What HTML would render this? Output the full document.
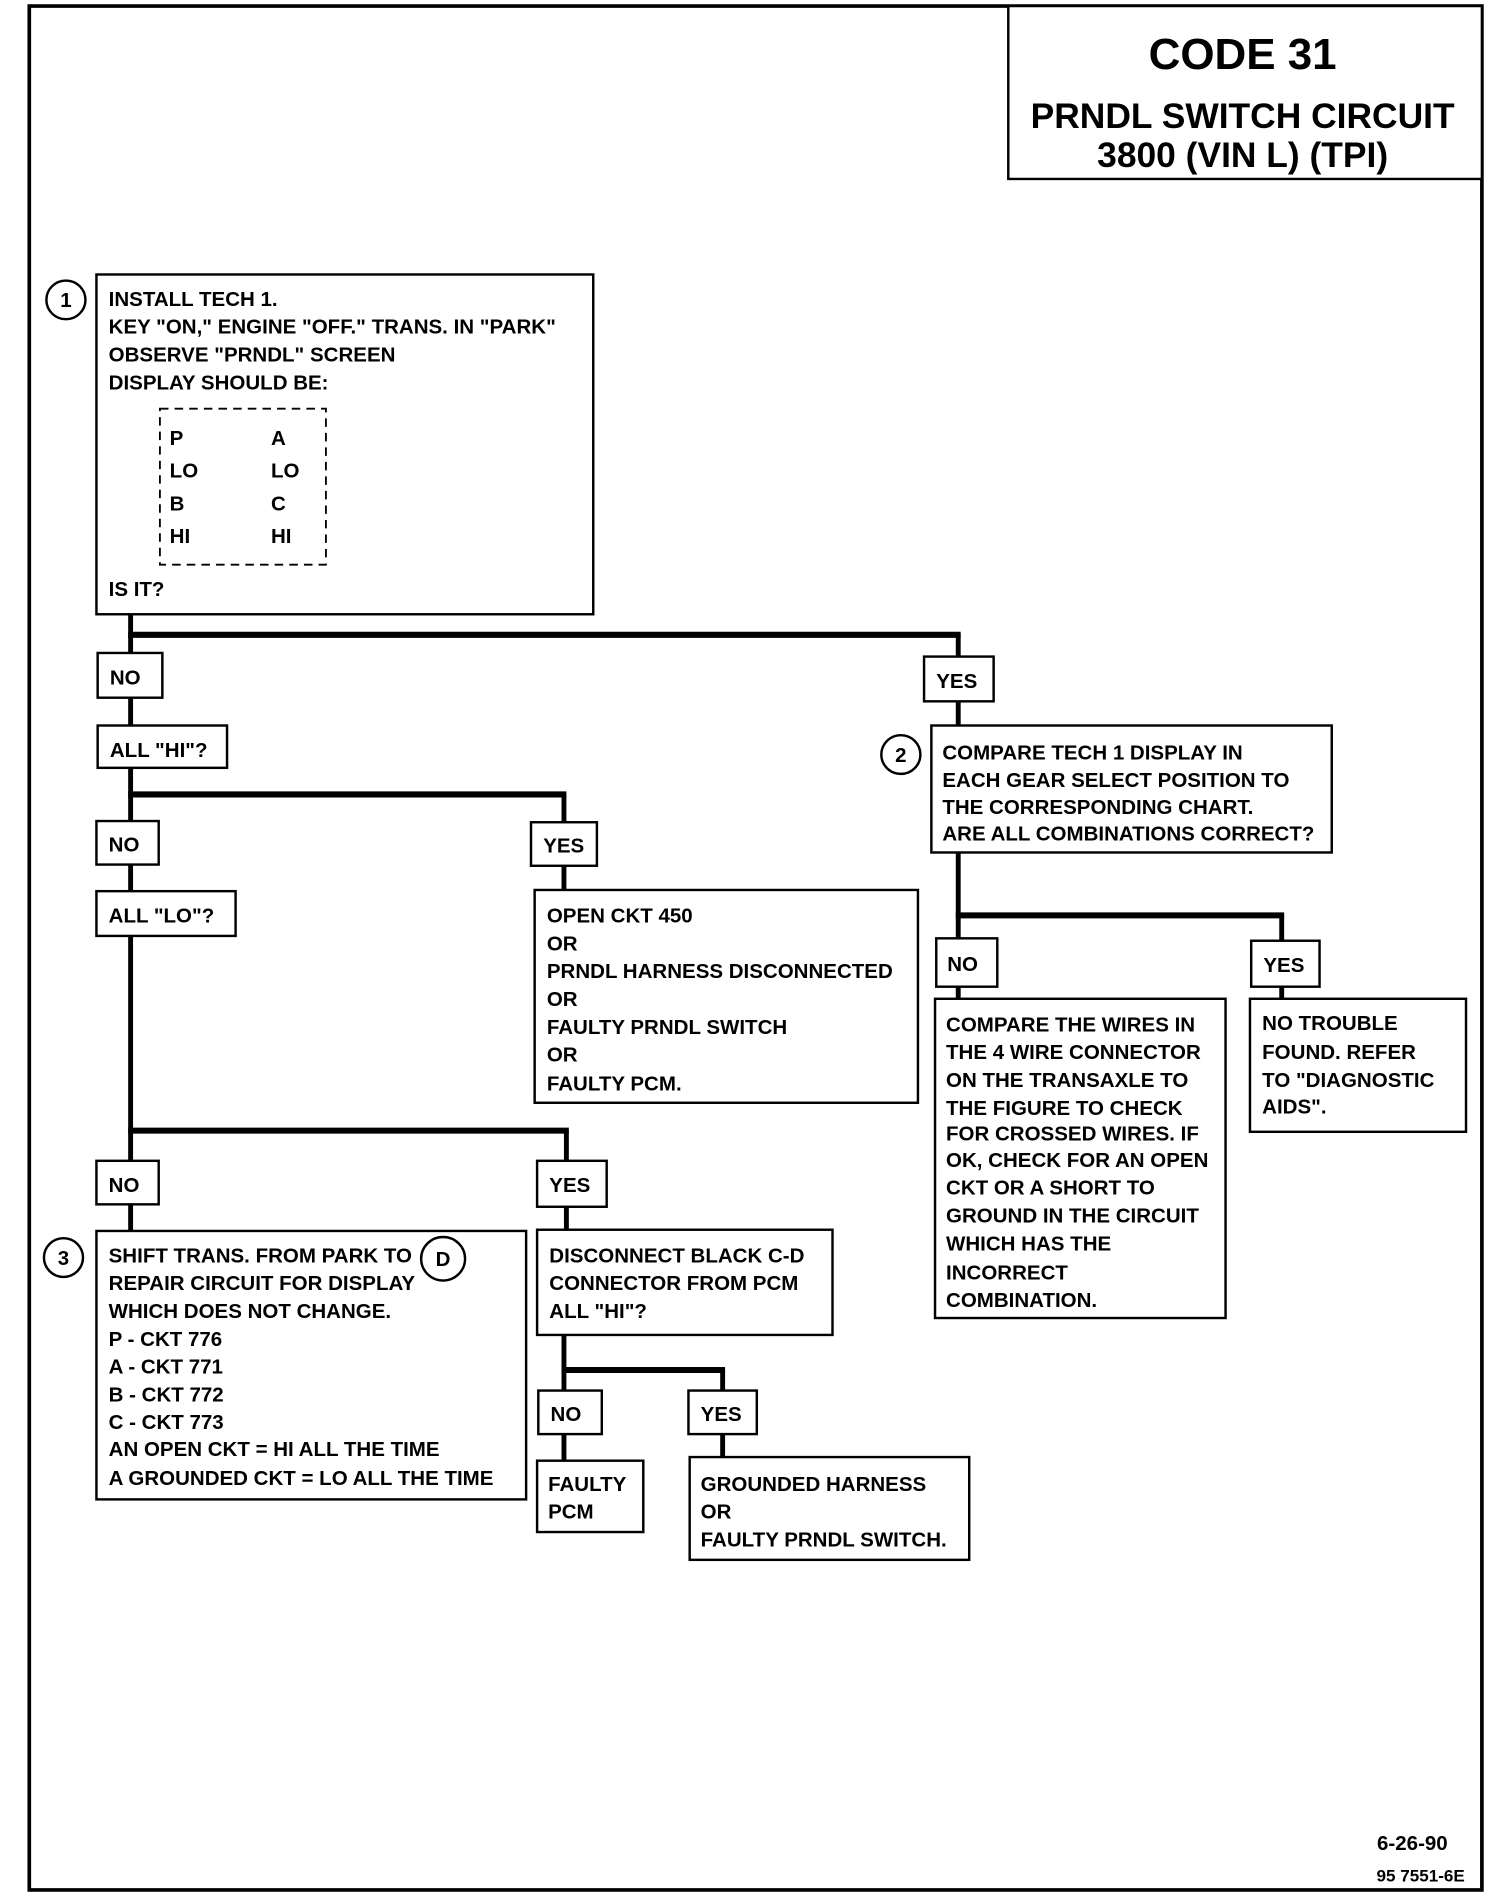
<!DOCTYPE html>
<html><head><meta charset="utf-8"><style>
html,body{margin:0;padding:0;background:#fff;}
svg{display:block;}
text{font-family:"Liberation Sans",sans-serif;font-weight:bold;font-size:16.8px;fill:#000;}
.b{fill:#fff;stroke:#000;stroke-width:2;}
.l{stroke:#000;stroke-width:4;fill:none;}
.h{stroke:#000;stroke-width:5;fill:none;}
</style></head><body>
<svg width="1488" height="1896" viewBox="0 0 1219 1568" preserveAspectRatio="none" xmlns="http://www.w3.org/2000/svg">
<rect x="0" y="0" width="1219" height="1568" fill="#fff"/>
<rect x="24" y="5" width="1190" height="1558" fill="none" stroke="#000" stroke-width="3"/>
<rect class="b" x="826" y="5" width="388" height="143"/>
<text x="1018" y="57" text-anchor="middle" style="font-size:36px">CODE 31</text>
<text x="1018" y="106" text-anchor="middle" style="font-size:29px">PRNDL SWITCH CIRCUIT</text>
<text x="1018" y="138" text-anchor="middle" style="font-size:29px">3800  (VIN L)  (TPI)</text>

<path class="l" d="M107 508V600 M107 635V737 M107 774V1018 M785 525V600 M462 657V736 M464 935V1017 M785 705V826 M1050 757V826 M462 1104V1208 M592 1133V1205"/>
<path class="h" d="M105 525H787 M105 657H464 M105 935H466 M783 757H1052 M460 1133H594"/>

<circle cx="54" cy="248" r="16" fill="#fff" stroke="#000" stroke-width="2"/>
<text x="54" y="254" text-anchor="middle">1</text>
<rect class="b" x="79" y="227" width="407" height="281"/>
<text x="89" y="253">INSTALL TECH 1.</text>
<text x="89" y="276">KEY "ON," ENGINE "OFF." TRANS. IN "PARK"</text>
<text x="89" y="299">OBSERVE "PRNDL" SCREEN</text>
<text x="89" y="322">DISPLAY SHOULD BE:</text>
<rect x="131" y="338" width="136" height="129" fill="none" stroke="#000" stroke-width="1.5" stroke-dasharray="7,5"/>
<text x="139" y="368">P</text><text x="222" y="368">A</text>
<text x="139" y="395">LO</text><text x="222" y="395">LO</text>
<text x="139" y="422">B</text><text x="222" y="422">C</text>
<text x="139" y="449">HI</text><text x="222" y="449">HI</text>
<text x="89" y="493">IS IT?</text>

<rect class="b" x="80" y="540" width="53" height="37"/><text x="90" y="566">NO</text>
<rect class="b" x="80" y="600" width="106" height="35"/><text x="90" y="626">ALL "HI"?</text>
<rect class="b" x="79" y="679" width="51" height="36"/><text x="89" y="704">NO</text>
<rect class="b" x="435" y="680" width="54" height="36"/><text x="445" y="705">YES</text>
<rect class="b" x="79" y="737" width="114" height="37"/><text x="89" y="763">ALL "LO"?</text>
<rect class="b" x="438" y="736" width="314" height="176"/>
<text x="448" y="763">OPEN CKT 450</text>
<text x="448" y="786">OR</text>
<text x="448" y="809">PRNDL HARNESS DISCONNECTED</text>
<text x="448" y="832">OR</text>
<text x="448" y="855">FAULTY PRNDL SWITCH</text>
<text x="448" y="878">OR</text>
<text x="448" y="902">FAULTY PCM.</text>

<rect class="b" x="79" y="960" width="51" height="36"/><text x="89" y="986">NO</text>
<rect class="b" x="440" y="960" width="57" height="38"/><text x="450" y="986">YES</text>
<circle cx="52" cy="1040" r="16" fill="#fff" stroke="#000" stroke-width="2"/>
<text x="52" y="1046" text-anchor="middle">3</text>
<rect class="b" x="79" y="1018" width="352" height="222"/>
<text x="89" y="1044">SHIFT TRANS. FROM PARK TO</text>
<circle cx="363" cy="1041" r="18" fill="#fff" stroke="#000" stroke-width="2"/>
<text x="363" y="1047" text-anchor="middle">D</text>
<text x="89" y="1067">REPAIR CIRCUIT FOR DISPLAY</text>
<text x="89" y="1090">WHICH DOES NOT CHANGE.</text>
<text x="89" y="1113">P - CKT 776</text>
<text x="89" y="1136">A - CKT 771</text>
<text x="89" y="1159">B - CKT 772</text>
<text x="89" y="1182">C - CKT 773</text>
<text x="89" y="1204">AN OPEN CKT  =  HI ALL THE TIME</text>
<text x="89" y="1228">A GROUNDED CKT  =  LO ALL THE TIME</text>

<rect class="b" x="440" y="1017" width="242" height="87"/>
<text x="450" y="1044">DISCONNECT BLACK C-D</text>
<text x="450" y="1067">CONNECTOR FROM PCM</text>
<text x="450" y="1090">ALL "HI"?</text>
<rect class="b" x="441" y="1150" width="52" height="36"/><text x="451" y="1175">NO</text>
<rect class="b" x="564" y="1150" width="56" height="36"/><text x="574" y="1175">YES</text>
<rect class="b" x="440" y="1208" width="87" height="59"/>
<text x="449" y="1233">FAULTY</text><text x="449" y="1256">PCM</text>
<rect class="b" x="565" y="1205" width="229" height="85"/>
<text x="574" y="1233">GROUNDED HARNESS</text>
<text x="574" y="1256">OR</text>
<text x="574" y="1279">FAULTY PRNDL SWITCH.</text>

<rect class="b" x="757" y="543" width="57" height="37"/><text x="767" y="569">YES</text>
<circle cx="738" cy="624" r="16" fill="#fff" stroke="#000" stroke-width="2"/>
<text x="738" y="630" text-anchor="middle">2</text>
<rect class="b" x="763" y="600" width="328" height="105"/>
<text x="772" y="628">COMPARE TECH 1 DISPLAY IN</text>
<text x="772" y="651">EACH GEAR SELECT POSITION TO</text>
<text x="772" y="673">THE CORRESPONDING CHART.</text>
<text x="772" y="695">ARE ALL COMBINATIONS CORRECT?</text>
<rect class="b" x="767" y="776" width="50" height="40"/><text x="776" y="803">NO</text>
<rect class="b" x="1025" y="778" width="56" height="38"/><text x="1035" y="804">YES</text>
<rect class="b" x="766" y="826" width="238" height="264"/>
<text x="775" y="853">COMPARE THE WIRES IN</text>
<text x="775" y="876">THE 4 WIRE CONNECTOR</text>
<text x="775" y="899">ON THE TRANSAXLE TO</text>
<text x="775" y="922">THE FIGURE TO CHECK</text>
<text x="775" y="943">FOR CROSSED WIRES.  IF</text>
<text x="775" y="965">OK, CHECK FOR AN OPEN</text>
<text x="775" y="988">CKT OR A SHORT TO</text>
<text x="775" y="1011">GROUND IN THE CIRCUIT</text>
<text x="775" y="1034">WHICH HAS THE</text>
<text x="775" y="1058">INCORRECT</text>
<text x="775" y="1081">COMBINATION.</text>
<rect class="b" x="1024" y="826" width="177" height="110"/>
<text x="1034" y="852">NO TROUBLE</text>
<text x="1034" y="876">FOUND.  REFER</text>
<text x="1034" y="899">TO "DIAGNOSTIC</text>
<text x="1034" y="921">AIDS".</text>

<text x="1186" y="1530" text-anchor="end">6-26-90</text>
<text x="1200" y="1556" text-anchor="end" style="font-size:14px">95 7551-6E</text>
</svg>
</body></html>
